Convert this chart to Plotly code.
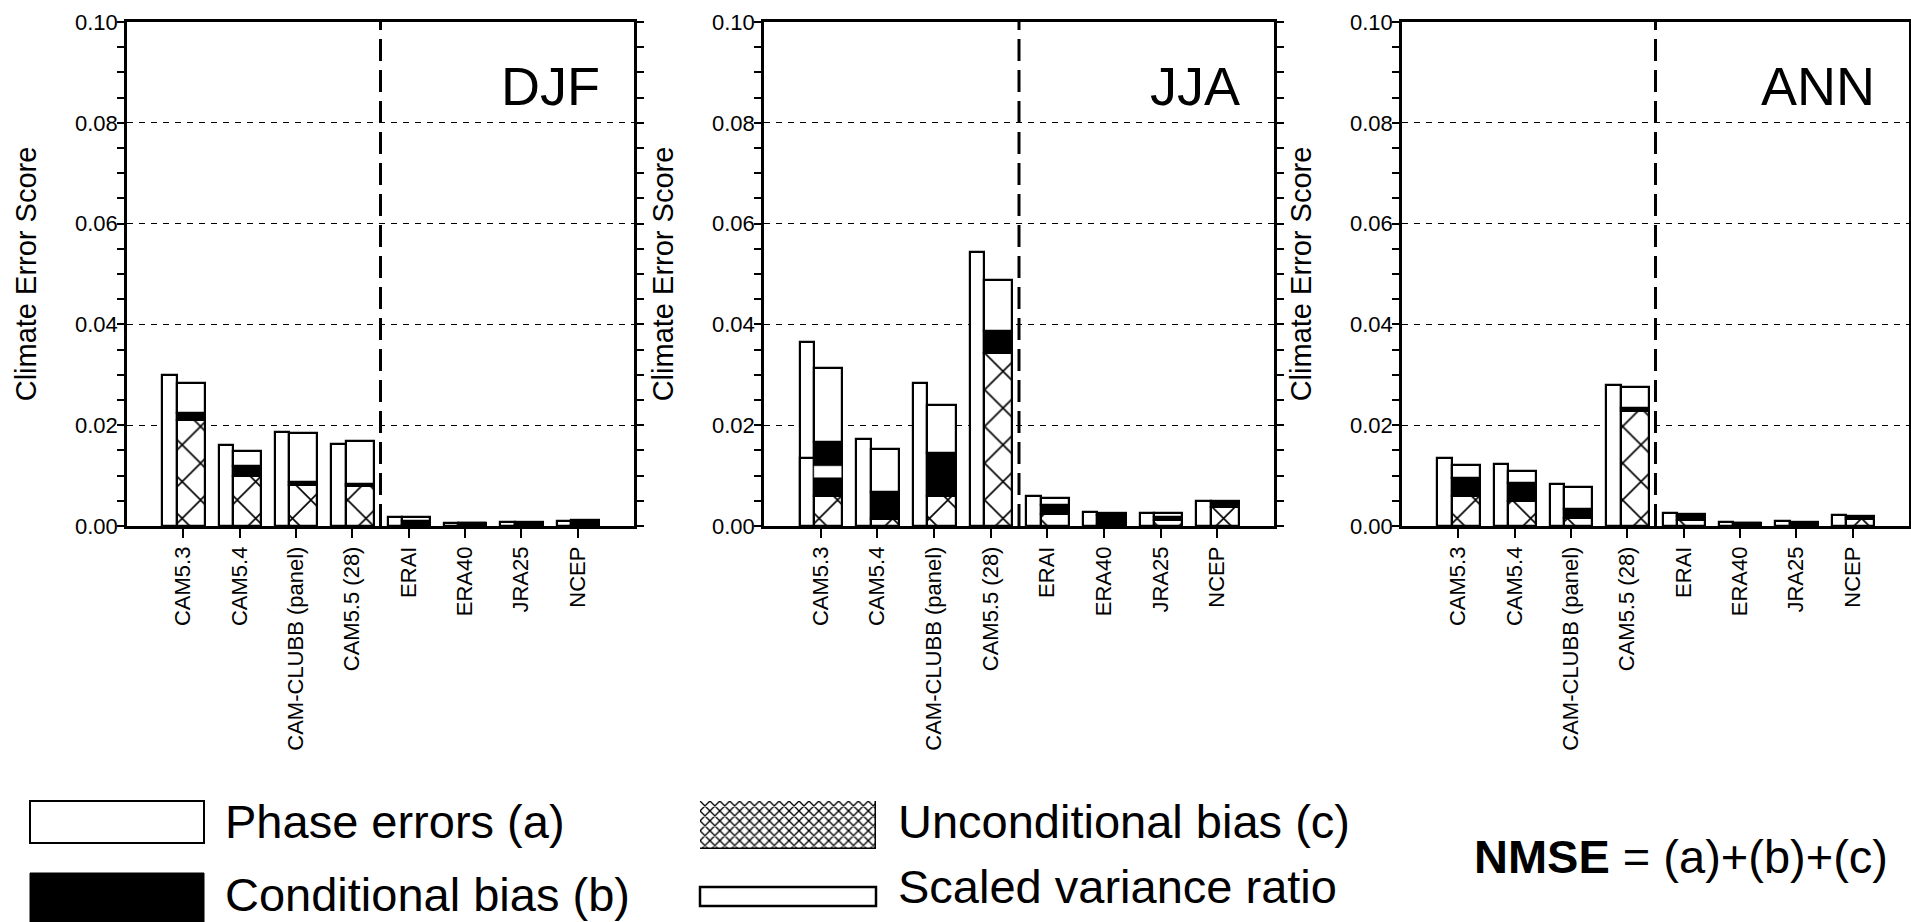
import plotly.graph_objects as go

W, H = 1911, 922

categories = ["CAM5.3", "CAM5.4", "CAM-CLUBB (panel)", "CAM5.5 (28)",
              "ERAI", "ERA40", "JRA25", "NCEP"]
y_ticks = [0.0, 0.02, 0.04, 0.06, 0.08, 0.10]
seasons = ["DJF", "JJA", "ANN"]

# Scaled variance ratio (narrow left bar)
djf_svr = [0.0299, 0.0161, 0.0187, 0.0163, 0.0018, 0.0006, 0.0008, 0.0010]
jja_svr = [0.0365, 0.0173, 0.0284, 0.0544, 0.0060, 0.0027, 0.0025, 0.0050]
ann_svr = [0.0135, 0.0124, 0.0083, 0.0279, 0.0025, 0.0007, 0.0009, 0.0021]
# internal division line seen inside the JJA CAM5.3 left bar
jja_svr_split = [0.0134, None, None, None, None, None, None, None]

# Unconditional bias (c)
djf_uncond = [0.0210, 0.0099, 0.0082, 0.0080, 0.0003, 0.0001, 0.0002, 0.0002]
jja_uncond = [0.0060, 0.0013, 0.0059, 0.0343, 0.0024, 0.0002, 0.0012, 0.0038]
ann_uncond = [0.0059, 0.0050, 0.0015, 0.0228, 0.0011, 0.0001, 0.0002, 0.0014]

# Conditional bias (b)
djf_cond = [0.0015, 0.0020, 0.0005, 0.0003, 0.0006, 0.0004, 0.0002, 0.0008]
jja_cond = [0.0107, 0.0054, 0.0086, 0.0044, 0.0018, 0.0019, 0.0006, 0.0010]
ann_cond = [0.0037, 0.0035, 0.0019, 0.0006, 0.0009, 0.0004, 0.0004, 0.0003]

# Phase errors (a)
djf_phase = [0.0058, 0.0030, 0.0097, 0.0085, 0.0009, 0.0001, 0.0004, 0.0001]
jja_phase = [0.0147, 0.0086, 0.0096, 0.0102, 0.0014, 0.0004, 0.0007, 0.0001]
ann_phase = [0.0025, 0.0024, 0.0044, 0.0042, 0.0003, 0.0001, 0.0002, 0.0003]

# white band inside the conditional-bias block (JJA CAM5.3)
jja_band_lo = [0.0095, None, None, None, None, None, None, None]
jja_band_hi = [0.0119, None, None, None, None, None, None, None]

season_data = [
    (djf_svr, None, djf_uncond, djf_cond, djf_phase, None, None),
    (jja_svr, jja_svr_split, jja_uncond, jja_cond, jja_phase, jja_band_lo, jja_band_hi),
    (ann_svr, None, ann_uncond, ann_cond, ann_phase, None, None),
]

FONT = "Liberation Sans, Arial, Helvetica, sans-serif"
LW = 2.2
domains_px = [(127, 634), (764, 1274), (1402, 1909)]
ytop, ybot = 22, 526

fig = go.Figure()

for k, (svr, split, unc, cond, ph, blo, bhi) in enumerate(season_data):
    xa = "x" if k == 0 else f"x{k+1}"
    ya = "y" if k == 0 else f"y{k+1}"
    line = dict(color="black", width=LW)
    # left narrow bar
    fig.add_trace(go.Bar(x=categories, y=svr, xaxis=xa, yaxis=ya, offset=-0.37, width=0.25,
                         marker=dict(color="white", line=line), showlegend=False))
    if split is not None:
        fig.add_trace(go.Bar(x=categories, y=split, xaxis=xa, yaxis=ya, offset=-0.37, width=0.25,
                             marker=dict(color="white", line=line), showlegend=False))
    # stacked right bar: c, b, a
    base_b = unc
    base_a = [u + c for u, c in zip(unc, cond)]
    fig.add_trace(go.Bar(x=categories, y=unc, xaxis=xa, yaxis=ya, offset=-0.12, width=0.5,
                         marker=dict(color="white", line=line,
                                     pattern=dict(shape="x", fgcolor="black", bgcolor="white",
                                                  fgopacity=1, size=26, solidity=0.12)),
                         showlegend=False))
    fig.add_trace(go.Bar(x=categories, y=cond, base=base_b, xaxis=xa, yaxis=ya, offset=-0.12, width=0.5,
                         marker=dict(color="black", line=line), showlegend=False))
    fig.add_trace(go.Bar(x=categories, y=ph, base=base_a, xaxis=xa, yaxis=ya, offset=-0.12, width=0.5,
                         marker=dict(color="white", line=line), showlegend=False))
    if blo is not None:
        band_h = [None if (lo is None) else hi - lo for lo, hi in zip(blo, bhi)]
        fig.add_trace(go.Bar(x=categories, y=band_h, base=blo, xaxis=xa, yaxis=ya, offset=-0.12, width=0.5,
                             marker=dict(color="white", line=dict(color="black", width=0.5)),
                             showlegend=False))

    d0, d1 = domains_px[k]
    xkey = "xaxis" if k == 0 else f"xaxis{k+1}"
    ykey = "yaxis" if k == 0 else f"yaxis{k+1}"
    fig.update_layout({
        xkey: dict(domain=[d0 / W, d1 / W], anchor=ya, type="category", range=[-1, 8],
                   showline=True, linecolor="black", linewidth=2.5, mirror=True,
                   ticks="outside", ticklen=9, tickwidth=2.2, tickcolor="black",
                   tickangle=-90, tickfont=dict(family=FONT, size=22, color="black"),
                   showgrid=False, zeroline=False, fixedrange=True, automargin=False),
        ykey: dict(domain=[1 - ybot / H, 1 - ytop / H], anchor=xa, range=[0, 0.1],
                   tickvals=y_ticks, ticktext=[f"{v:.2f}" for v in y_ticks],
                   showline=True, linecolor="black", linewidth=2.5, mirror="ticks",
                   ticks="outside", ticklen=7, tickwidth=2.2, tickcolor="black",
                   ticklabelstandoff=-5,
                   minor=dict(dtick=0.005, ticks="outside", ticklen=7, tickwidth=2, tickcolor="black",
                              showgrid=False),
                   showgrid=True, gridcolor="black", gridwidth=1.2, griddash="6px,6px",
                   zeroline=False, automargin=False,
                   tickfont=dict(family=FONT, size=22, color="black"),
                   title=dict(text="Climate Error Score", standoff=30,
                              font=dict(family=FONT, size=29, color="black")),
                   fixedrange=True),
    })
    fig.add_shape(type="line", xref=xa, yref=f"{ya} domain", x0=3.5, x1=3.5, y0=0, y1=1,
                  line=dict(color="black", width=3, dash="22px,9px"))
    fig.add_annotation(text=seasons[k], xref=f"{xa} domain", yref=f"{ya} domain",
                       x=1 - 32 / (d1 - d0), y=1 - 64 / (ybot - ytop),
                       xanchor="right", yanchor="middle", showarrow=False,
                       font=dict(family=FONT, size=54, color="black"))

# ---- legend (drawn manually) ----
def px(xp):
    return xp / W

def py(yp):
    return 1 - yp / H

legend_font = dict(family=FONT, size=47, color="black")
fig.add_shape(type="rect", xref="paper", yref="paper", x0=px(30), x1=px(204), y0=py(843), y1=py(801),
              line=dict(color="black", width=2), fillcolor="white")
fig.add_shape(type="rect", xref="paper", yref="paper", x0=px(30), x1=px(204), y0=py(925), y1=py(873),
              line=dict(color="black", width=1), fillcolor="black")
fig.add_shape(type="rect", xref="paper", yref="paper", x0=px(700), x1=px(876), y0=py(906), y1=py(887),
              line=dict(color="black", width=2.5), fillcolor="white")

# hatched legend swatch on its own hidden axis
fig.add_trace(go.Bar(x=[0.5], y=[1], width=[1], xaxis="x4", yaxis="y4", showlegend=False,
                     marker=dict(color="white", line=dict(color="black", width=1.5),
                                 pattern=dict(shape="x", fgcolor="black", bgcolor="white",
                                              fgopacity=1, size=7, solidity=0.35))))
fig.update_layout(
    xaxis4=dict(domain=[px(700), px(876)], anchor="y4", range=[0, 1], visible=False, fixedrange=True),
    yaxis4=dict(domain=[py(849), py(801)], anchor="x4", range=[0, 1], visible=False, fixedrange=True),
)

for text, xp, yp in [("Phase errors (a)", 223, 821), ("Conditional bias (b)", 223, 894),
                     ("Unconditional bias (c)", 896, 821), ("Scaled variance ratio", 896, 886)]:
    fig.add_annotation(text=text, xref="paper", yref="paper", x=px(xp), y=py(yp),
                       xanchor="left", yanchor="middle", showarrow=False, font=legend_font)
fig.add_annotation(text="<b>NMSE</b> = (a)+(b)+(c)", xref="paper", yref="paper",
                   x=px(1472), y=py(856), xanchor="left", yanchor="middle",
                   showarrow=False, font=legend_font)

fig.update_layout(width=W, height=H, margin=dict(l=0, r=0, t=0, b=0, autoexpand=False),
                  barmode="overlay", bargap=0, plot_bgcolor="white", paper_bgcolor="white",
                  showlegend=False)

fig.write_html("out.html", config={"displayModeBar": False},
               post_script="document.body.style.margin='0';document.body.style.overflow='hidden';"
                           "document.documentElement.style.overflow='hidden';")
